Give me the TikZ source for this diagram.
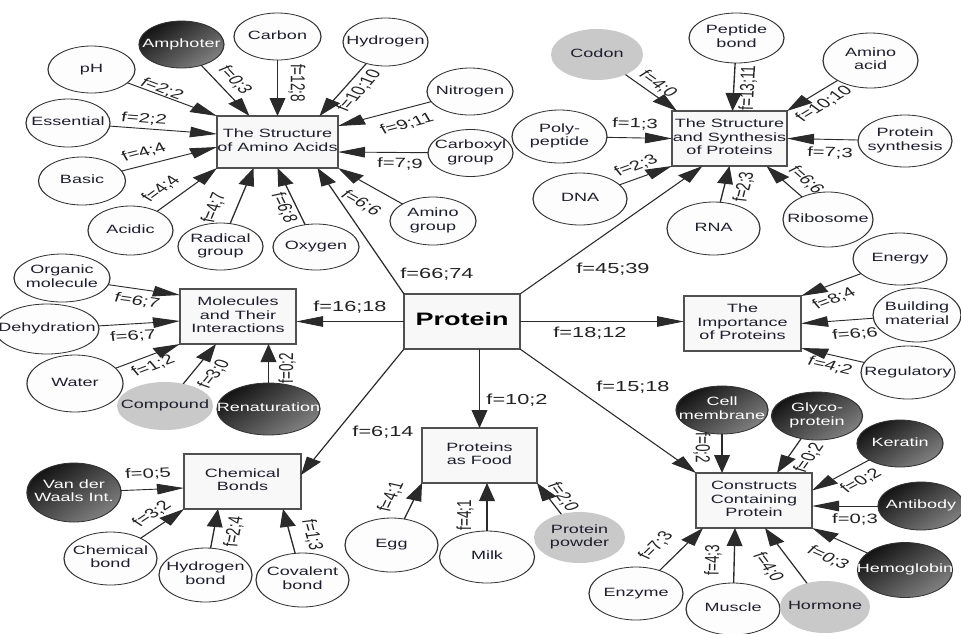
\documentclass[tikz,border=0pt]{standalone}
\usepackage{fontspec}
\setmainfont{Liberation Sans}
\usetikzlibrary{calc,arrows.meta,shapes.geometric}

\definecolor{txt}{HTML}{1E1E2E}
\definecolor{lblc}{HTML}{222222}
\definecolor{boxfill}{HTML}{F8F8F8}
\definecolor{boxdraw}{HTML}{505050}
\definecolor{ellfill}{HTML}{FDFDFD}
\definecolor{grayfill}{HTML}{C9C9C9}
\definecolor{edgec}{HTML}{2A2A2A}

\newcommand\zt[1]{\makebox[0pt]{\begin{tabular}{@{}c@{}}#1\end{tabular}}}
% label whose slope follows the connector from #2 to #3
\newcommand\elab[5]{\path let \p1=($(#3)-(#2)$), \n1={atan2(\y1,\x1)},
  \n2={\n1>90 ? \n1-180 : (\n1<-90 ? \n1+180 : \n1)} in
  node[lab, rotate=\n2] (#1) at (#4) {#5};}
\newcommand\fe[5]{\draw[arr] (#1) -- (#2);\elab{#3}{#1}{#2}{#4}{#5}}

\tikzset{
  base/.style={inner sep=0pt, outer sep=0pt, font=\fontsize{12}{13.5}\selectfont, text=txt},
  cbox/.style={base, rectangle, draw=boxdraw, line width=1.2pt, fill=boxfill,
    minimum width={#1*0.666667pt}, minimum height=55pt},
  oval/.style 2 args={base, ellipse, draw=black!80, line width=0.8pt, fill=ellfill,
    minimum width={#1*0.666667pt}, minimum height=#2pt},
  darkoval/.style 2 args={oval={#1}{#2}, top color=black!92, bottom color=black!50,
    shading angle=45, text=white},
  grayoval/.style 2 args={oval={#1}{#2}, fill=grayfill, draw=none},
  arr/.style={draw=edgec, line width=0.9pt, -{Triangle[length=18pt,width=10.5pt]}},
  lab/.style={inner sep=0.5pt, font=\fontsize{13.5}{13.5}\selectfont, text=lblc},
  plab/.style={inner sep=0pt, font=\fontsize{14.5}{14.5}\selectfont, text=lblc},
}

\begin{document}
\begin{tikzpicture}
\useasboundingbox (0,0) rectangle (961pt,-633pt);
\fill[white] (0,0) rectangle (961pt,-633pt);
\begin{scope}[transform canvas={xscale=1.5}, x=0.666667pt, y=-1pt]
\clip (0,0) rectangle (961,633);

% ---------- boxes ----------
\node[cbox=116, font=\fontsize{18}{18}\selectfont\bfseries, text=black] (P) at (462,321.5) {\zt{Protein}};
\node[cbox=121, minimum height=52pt] (am) at (277.5,142) {\zt{The Structure\\of Amino Acids}};
\node[cbox=115] (syn) at (729.5,138.5) {\zt{The Structure\\and Synthesis\\of Proteins}};
\node[cbox=116] (mol) at (238,316.5) {\zt{Molecules\\and Their\\Interactions}};
\node[cbox=117] (imp) at (742.5,323.5) {\zt{The\\Importance\\of Proteins}};
\node[cbox=117] (cb) at (242.5,481.5) {\zt{Chemical\\Bonds}};
\node[cbox=115] (food) at (479.5,455.5) {\zt{Proteins\\as Food}};
\node[cbox=116] (con) at (754,500.5) {\zt{Constructs\\Containing\\Protein}};

% ---------- amino acids group ----------
\node[darkoval={85}{47}] (amph) at (181.5,44.5) {\zt{Amphoter}};
\node[oval={87}{47}] (carbon) at (277.5,36.5) {\zt{Carbon}};
\node[oval={85}{48}] (hyd) at (385.5,42) {\zt{Hydrogen}};
\node[oval={87}{47}] (ph) at (91.5,69.5) {\zt{pH}};
\node[oval={86}{47}] (nit) at (470,91.5) {\zt{Nitrogen}};
\node[oval={85}{47}] (carb) at (470.5,153) {\zt{Carboxyl\\group}};
\node[oval={84}{48}] (ess) at (68,123) {\zt{Essential}};
\node[oval={87}{48}] (basic) at (82,181) {\zt{Basic}};
\node[oval={85}{49}] (acidic) at (130.5,230.5) {\zt{Acidic}};
\node[oval={85}{47}] (radical) at (220.5,246.5) {\zt{Radical\\group}};
\node[oval={86}{46}] (oxy) at (316,247) {\zt{Oxygen}};
\node[oval={86}{48}] (amgrp) at (433,221) {\zt{Amino\\group}};

% ---------- synthesis group ----------
\node[grayoval={92}{51}] (codon) at (597,54.5) {\zt{Codon}};
\node[oval={95}{50}] (pep) at (736.5,38) {\zt{Peptide\\bond}};
\node[oval={95}{55}] (aa) at (870.5,60.5) {\zt{Amino\\acid}};
\node[oval={95}{53}] (poly) at (559.5,136.5) {\zt{Poly-\\peptide}};
\node[oval={94}{52}] (psyn) at (905,141) {\zt{Protein\\synthesis}};
\node[oval={94}{52}] (dna) at (580,199) {\zt{DNA}};
\node[oval={93}{53}] (rna) at (713.5,228.5) {\zt{RNA}};
\node[oval={90}{55}] (ribo) at (828,219.5) {\zt{Ribosome}};

% ---------- molecules group ----------
\node[oval={96}{48}] (org) at (62,278) {\zt{Organic\\molecule}};
\node[oval={104}{50}] (dehyd) at (47,329) {\zt{Dehydration}};
\node[oval={96}{57}] (water) at (75,383.5) {\zt{Water}};
\node[grayoval={96}{48}] (comp) at (165,406) {\zt{Compound}};
\node[darkoval={103}{52}] (renat) at (268.5,409) {\zt{Renaturation}};

% ---------- importance group ----------
\node[oval={94}{52}] (energy) at (900,259) {\zt{Energy}};
\node[oval={88}{54}] (build) at (917,315) {\zt{Building\\material}};
\node[oval={94}{53}] (reg) at (908,372.5) {\zt{Regulatory}};

% ---------- chemical bonds group ----------
\node[darkoval={94}{59}] (vdw) at (74,492.5) {\zt{Van der\\Waals Int.}};
\node[oval={93}{53}] (cbond) at (110.5,558.5) {\zt{Chemical\\bond}};
\node[oval={93}{54}] (hbond) at (205.5,575) {\zt{Hydrogen\\bond}};
\node[oval={93}{54}] (cov) at (302.5,580) {\zt{Covalent\\bond}};

% ---------- food group ----------
\node[oval={93}{54}] (egg) at (391.5,545) {\zt{Egg}};
\node[oval={95}{52}] (milk) at (487,557) {\zt{Milk}};
\node[grayoval={91}{51}] (powder) at (579.5,537.5) {\zt{Protein\\powder}};

% ---------- constructs group ----------
\node[oval={94}{53}] (enz) at (636,593.5) {\zt{Enzyme}};
\node[oval={94}{52}] (mus) at (733,609) {\zt{Muscle}};
\node[grayoval={90}{52}] (horm) at (825,607) {\zt{Hormone}};
\node[darkoval={92}{48}] (cell) at (722,410) {\zt{Cell\\membrane}};
\node[darkoval={91}{48}] (glyco) at (817,416) {\zt{Glyco-\\protein}};
\node[darkoval={86}{47}] (ker) at (900,443.5) {\zt{Keratin}};
\node[darkoval={86}{48}] (anti) at (921,506) {\zt{Antibody}};
\node[darkoval={95}{55}] (hemo) at (905,570) {\zt{Hemoglobin}};

% ---------- connector end points ----------
\coordinate (t-amph) at ([shift={(-28,0)}]am.north);
\coordinate (t-carbon) at (am.north);
\coordinate (t-hyd) at ([shift={(42,0)}]am.north);
\coordinate (t-ph) at (am.north west);
\coordinate (t-ess) at ([yshift=8pt]am.west);
\coordinate (t-basic) at ([yshift=-5pt]am.west);
\coordinate (t-acidic) at (am.south west);
\coordinate (t-radical) at ([shift={(-24,0)}]am.south);
\coordinate (t-oxy) at (am.south);
\coordinate (t-amgrp) at (am.south east);
\coordinate (t-carb) at ([yshift=-10pt]am.east);
\coordinate (t-nit) at ([yshift=16pt]am.east);
\coordinate (t-Pam) at ([shift={(40,0)}]am.south);

\coordinate (t-codon) at ([shift={(5,0)}]syn.north west);
\coordinate (t-pep) at ([shift={(3,0)}]syn.north);
\coordinate (t-aa) at (syn.north east);
\coordinate (t-poly) at (syn.west);
\coordinate (t-psyn) at (syn.east);
\coordinate (t-dna) at (syn.south west);
\coordinate (t-rna) at (syn.south);
\coordinate (t-ribo) at ([shift={(37,0)}]syn.south);
\coordinate (t-Psyn) at ([shift={(-27,0)}]syn.south);

\coordinate (t-org) at ([yshift=-6pt]mol.north west);
\coordinate (t-dehyd) at ([yshift=-4.5pt]mol.west);
\coordinate (t-water) at (mol.south west);
\coordinate (t-comp) at ([shift={(-22,0)}]mol.south);
\coordinate (t-renat) at (renat |- mol.south);
\coordinate (t-Pmol) at (P -| mol.east);

\coordinate (t-energy) at (imp.north east);
\coordinate (t-build) at (imp.east);
\coordinate (t-reg) at ([yshift=3pt]imp.south east);
\coordinate (t-Pimp) at (P -| imp.west);

\coordinate (t-vdw) at ([yshift=-6.5pt]cb.west);
\coordinate (t-cbond) at (cb.south west);
\coordinate (t-hbond) at ([shift={(-24.5,0)}]cb.south);
\coordinate (t-cov) at ([shift={(40.5,0)}]cb.south);
\coordinate (t-Pcb) at ([yshift=6.5pt]cb.east);

\coordinate (t-egg) at (food.south west);
\coordinate (t-milk) at (milk |- food.south);
\coordinate (t-powder) at (food.south east);
\coordinate (s-Pfood) at (P.south -| food.north);

\coordinate (t-cell) at (cell |- con.north);
\coordinate (t-glyco) at ([shift={(23,0)}]con.north);
\coordinate (t-ker) at ([yshift=10pt]con.east);
\coordinate (t-anti) at (anti -| con.east);
\coordinate (t-hemo) at (con.south east);
\coordinate (t-horm) at ([shift={(11,0)}]con.south);
\coordinate (t-mus) at ([shift={(-19,0)}]con.south);
\coordinate (t-enz) at ([shift={(7,0)}]con.south west);

% ---------- connectors from Protein ----------
\draw[arr] (P.north west) -- (t-Pam);
\draw[arr] (P.north east) -- (t-Psyn);
\draw[arr] (P) -- (t-Pmol);
\draw[arr] (P) -- (t-Pimp);
\draw[arr] (P.south west) -- (t-Pcb);
\draw[arr] (s-Pfood) -- (food.north);
\draw[arr] (P.south east) -- (con.north west);
\node[plab] (l-Pam) at (437,274) {f=66;74};
\node[plab] (l-Psyn) at (613,269) {f=45;39};
\node[plab] (l-Pmol) at (350,307) {f=16;18};
\node[plab] (l-Pimp) at (590,333) {f=18;12};
\node[plab] (l-Pcb) at (383,432) {f=6;14};
\node[plab] (l-Pfood) at (517,400) {f=10;2};
\node[plab] (l-Pcon) at (633,387) {f=15;18};

% ---------- amino acids connectors ----------
\fe{amph}{t-amph}{l-amph}{235,80}{f=0;3}
\fe{carbon}{t-carbon}{l-carbon}{297,83}{f=12;8}
\fe{hyd}{t-hyd}{l-hyd}{359,91}{f=10;10}
\fe{ph}{t-ph}{l-ph}{162,89}{f=2;2}
\fe{ess}{t-ess}{l-ess}{144,119}{f=2;2}
\fe{basic}{t-basic}{l-basic}{144,152}{f=4;4}
\fe{acidic}{t-acidic}{l-acidic}{161,189}{f=4;4}
\fe{radical}{t-radical}{l-radical}{214,208}{f=4;7}
\fe{oxy}{t-oxy}{l-oxy}{284,208}{f=6;8}
\fe{amgrp}{t-amgrp}{l-amgrp}{361,203}{f=6;6}
\fe{carb}{t-carb}{l-carb}{400,164}{f=7;9}
\fe{nit}{t-nit}{l-nit}{407,124}{f=9;11}

% ---------- synthesis connectors ----------
\fe{codon}{t-codon}{l-codon}{658,84}{f=4;0}
\fe{pep}{t-pep}{l-pep}{748,88}{f=13;11}
\fe{aa}{t-aa}{l-aa}{824,104}{f=10;10}
\fe{poly}{t-poly}{l-poly}{635,124}{f=1;3}
\fe{psyn}{t-psyn}{l-psyn}{830,153}{f=7;3}
\fe{dna}{t-dna}{l-dna}{636,166}{f=2;3}
\fe{rna}{t-rna}{l-rna}{744,187}{f=2;3}
\fe{ribo}{t-ribo}{l-ribo}{806,180}{f=6;6}

% ---------- molecules connectors ----------
\fe{org}{t-org}{l-org}{137,301}{f=6;7}
\fe{dehyd}{t-dehyd}{l-dehyd}{133,336}{f=6;7}
\fe{water}{t-water}{l-water}{153,366}{f=1;2}
\fe{comp}{t-comp}{l-comp}{214,374}{f=3;0}
\fe{renat}{t-renat}{l-renat}{287,368}{f=0;2}

% ---------- importance connectors ----------
\fe{energy}{t-energy}{l-energy}{834,299}{f=8;4}
\fe{build}{t-build}{l-build}{855,334}{f=6;6}
\fe{reg}{t-reg}{l-reg}{830,366}{f=4;2}

% ---------- chemical bonds connectors ----------
\fe{vdw}{t-vdw}{l-vdw}{148,474}{f=0;5}
\fe{cbond}{t-cbond}{l-cbond}{152,514}{f=3;2}
\fe{hbond}{t-hbond}{l-hbond}{234,532}{f=2;4}
\fe{cov}{t-cov}{l-cov}{312,535}{f=1;3}

% ---------- food connectors ----------
\fe{egg}{t-egg}{l-egg}{391,497}{f=4;1}
\fe{milk}{t-milk}{l-milk}{465,515}{f=4;1}
\fe{powder}{t-powder}{l-powder}{563,497}{f=2;0}

% ---------- constructs connectors ----------
\fe{cell}{t-cell}{l-cell}{702,448}{f=0;2}
\fe{glyco}{t-glyco}{l-glyco}{809,458}{f=0;2}
\fe{ker}{t-ker}{l-ker}{861,481}{f=0;2}
\fe{anti}{t-anti}{l-anti}{855,519}{f=0;3}
\fe{hemo}{t-hemo}{l-hemo}{828,558}{f=0;3}
\fe{enz}{t-enz}{l-enz}{656,546}{f=7;3}
\fe{mus}{t-mus}{l-mus}{713,560}{f=4;3}
\fe{horm}{t-horm}{l-horm}{768,567}{f=4;0}
\end{scope}
\end{tikzpicture}
\end{document}
